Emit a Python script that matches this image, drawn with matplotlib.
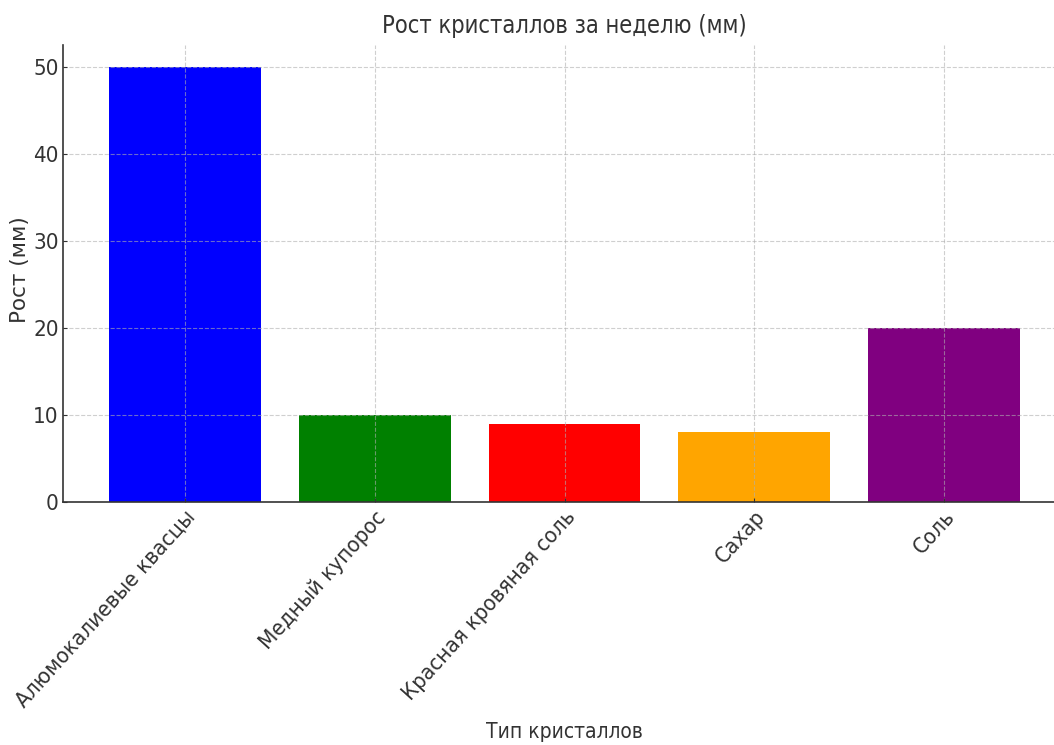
import matplotlib
matplotlib.use("Agg")
import matplotlib.pyplot as plt
from matplotlib import font_manager
from matplotlib.font_manager import FontProperties

crystals = ["Алюмокалиевые квасцы", "Медный купорос", "Красная кровяная соль", "Сахар", "Соль"]
growth_mm = [50, 10, 9, 8, 20]
bar_colors = ["blue", "green", "red", "orange", "purple"]


def narrow_font(size):
    # prefer the condensed DejaVu face when it is installed
    for f in font_manager.fontManager.ttflist:
        if f.fname.endswith("DejaVuSansCondensed.ttf"):
            return FontProperties(fname=f.fname, size=size)
    return FontProperties(family="DejaVu Sans", stretch="condensed", size=size)


text_color = "#333333"

fig = plt.figure(figsize=(10.54, 7.45), dpi=100)
ax = fig.add_axes([63 / 1054, 243 / 745, 1003 / 1054, 457 / 745])

ax.bar(crystals, growth_mm, color=bar_colors, width=0.8)
ax.grid(True, linestyle="--", alpha=0.6)

ax.set_title("Рост кристаллов за неделю (мм)", fontproperties=narrow_font(17), color=text_color, pad=9)
ax.set_xlabel("Тип кристаллов", fontproperties=narrow_font(15), color=text_color)
ax.xaxis.set_label_coords(0.5, -0.482)
ax.set_ylabel("Рост (мм)", family="DejaVu Sans", fontsize=15.5, color=text_color)
ax.yaxis.set_label_coords(-0.033, 0.508)

ax.tick_params(direction="in", length=3, colors=text_color)
ax.tick_params(axis="y", pad=3)
for lbl in ax.get_yticklabels():
    lbl.set_fontproperties(narrow_font(16))
for lbl in ax.get_xticklabels():
    lbl.set_fontproperties(narrow_font(16))
    lbl.set_rotation(48)
    lbl.set_ha("right")
    lbl.set_rotation_mode("anchor")

for side in ("top", "right"):
    ax.spines[side].set_visible(False)
for side in ("left", "bottom"):
    ax.spines[side].set_color(text_color)
    ax.spines[side].set_linewidth(1.2)

fig.savefig("out.png", dpi=100)
